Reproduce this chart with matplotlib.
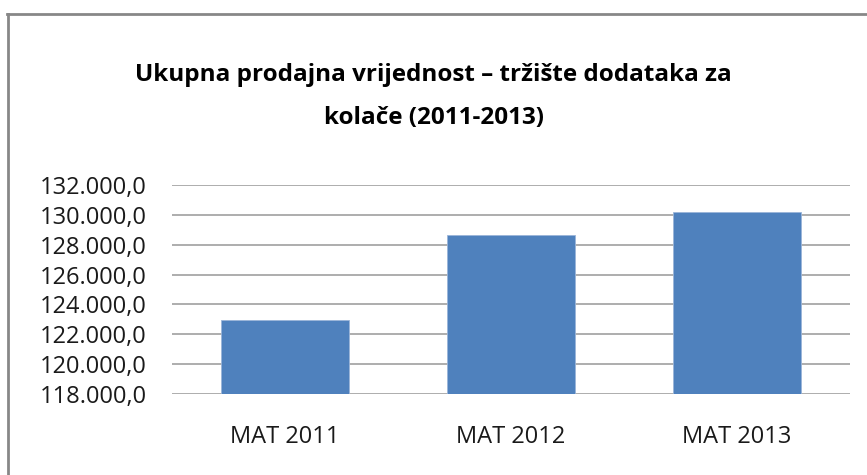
import matplotlib
matplotlib.use("Agg")
import matplotlib.pyplot as plt
from matplotlib.lines import Line2D
from matplotlib.ticker import FuncFormatter

categories = ["MAT 2011", "MAT 2012", "MAT 2013"]
values = [122950, 128650, 130200]
yticks = [118000, 120000, 122000, 124000, 126000, 128000, 130000, 132000]

plt.rcParams['font.family'] = ['Open Sans', 'DejaVu Sans']

fig = plt.figure(figsize=(8.67, 4.75), dpi=100)
# outer chart border (top and left visible; right/bottom cropped)
fig.lines.append(Line2D([8/867, 8/867], [0, 1-14/475], transform=fig.transFigure,
                        color="#878787", linewidth=2))
fig.lines.append(Line2D([7/867, 1], [1-14/475, 1-14/475], transform=fig.transFigure,
                        color="#878787", linewidth=2))

ax = fig.add_axes([172/867, 1-394/475, 678/867, 209/475])
x = range(len(categories))
ax.bar(x, values, width=0.57, color="#4F81BD", edgecolor="#9BB5D9", linewidth=0.6, zorder=3)
ax.set_xlim(-0.5, 2.5)
ax.set_ylim(118000, 132000)
ax.set_yticks(yticks)
ax.yaxis.set_major_formatter(FuncFormatter(lambda v, p: f"{int(v):,}".replace(",", ".") + ",0"))
ax.set_xticks(list(x))
ax.set_xticklabels(categories)
ax.grid(axis="y", color="#A0A0A0", linewidth=1.2, zorder=0)
for s in ax.spines.values():
    s.set_visible(False)
ax.tick_params(axis="both", length=0, labelsize=17, colors="#1a1a1a")
ax.tick_params(axis="y", pad=18)
ax.tick_params(axis="x", pad=22)

fig.text(0.5, 1-75/475, "Ukupna prodajna vrijednost – tržište dodataka za", ha="center", va="center",
         fontsize=17.5, fontweight="bold")
fig.text(0.5, 1-118/475, "kolače (2011-2013)", ha="center", va="center",
         fontsize=17.5, fontweight="bold")

fig.savefig("out.png", dpi=100)
